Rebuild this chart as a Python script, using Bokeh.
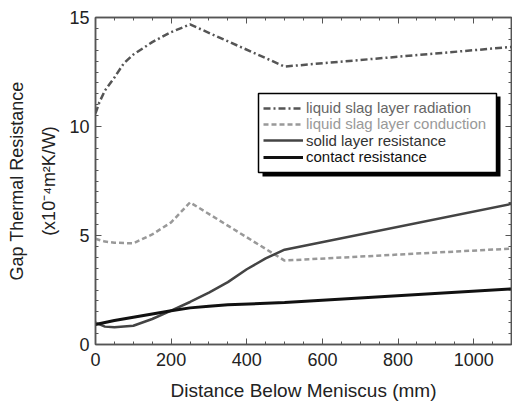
from bokeh.plotting import figure
from bokeh.models import (Range1d, LinearAxis, Legend, LegendItem,
                          BoxAnnotation, SingleIntervalTicker, CustomJSTickFormatter)
from bokeh.embed import file_html
from bokeh.resources import INLINE

# ---- data ----
rad_x = [0, 10, 25, 50, 75, 100, 150, 200, 250, 500, 1100]
rad_y = [10.6, 11.1, 11.65, 12.25, 12.9, 13.3, 13.87, 14.33, 14.68, 12.75, 13.65]

cond_x = [0, 25, 50, 100, 150, 200, 250, 500, 1100]
cond_y = [4.85, 4.72, 4.67, 4.64, 5.05, 5.6, 6.52, 3.85, 4.4]

solid_x = [0, 25, 50, 100, 150, 200, 250, 300, 350, 400, 450, 500, 1100]
solid_y = [1.0, 0.82, 0.79, 0.86, 1.17, 1.55, 1.95, 2.38, 2.86, 3.45, 3.95, 4.35, 6.45]

cont_x = [0, 50, 100, 150, 200, 250, 300, 350, 500, 1100]
cont_y = [0.92, 1.1, 1.25, 1.4, 1.55, 1.68, 1.76, 1.82, 1.93, 2.55]

series_names = ["liquid slag layer radiation", "liquid slag layer conduction",
                "solid layer resistance", "contact resistance"]
x_title = "Distance Below Meniscus (mm)"
y_title = "Gap Thermal Resistance\n(x10\u207b\u2074m\u00b2K/W)"

FONT = "Liberation Sans"

p = figure(width=512, height=403, output_backend="svg", toolbar_location=None,
           x_range=Range1d(0, 1100), y_range=Range1d(0, 15),
           min_border_left=95, min_border_right=1, min_border_top=17,
           min_border_bottom=59)
p.xgrid.visible = False
p.ygrid.visible = False
p.outline_line_color = "#555555"
p.outline_line_width = 1.5
p.background_fill_color = "white"
p.border_fill_color = "white"

def style_axis(ax, labels=True):
    ax.axis_line_color = "#555555"
    ax.axis_line_width = 1.5
    ax.major_tick_line_color = "#555555"
    ax.minor_tick_line_color = "#555555"
    ax.major_tick_in = 6
    ax.major_tick_out = 0
    ax.minor_tick_in = 3
    ax.minor_tick_out = 0
    ax.major_tick_line_width = 1
    ax.minor_tick_line_width = 1
    if labels:
        ax.major_label_text_font = FONT
        ax.major_label_text_font_size = "18px"
        ax.major_label_text_color = "#222222"
        ax.axis_label_text_font = FONT
        ax.axis_label_text_font_style = "normal"
        ax.axis_label_text_color = "#222222"
    else:
        ax.formatter = CustomJSTickFormatter(code="return ''")
        ax.major_label_standoff = 0

p.xaxis.ticker = SingleIntervalTicker(interval=200, num_minor_ticks=4)
p.yaxis.ticker = SingleIntervalTicker(interval=5, num_minor_ticks=10)
style_axis(p.xaxis[0])
style_axis(p.yaxis[0])
p.xaxis.major_label_standoff = 8
p.yaxis.major_label_standoff = 6

p.xaxis.axis_label = x_title
p.xaxis.axis_label_text_font_size = "19px"
p.xaxis.axis_label_standoff = 11

p.yaxis.axis_label = y_title
p.yaxis.axis_label_text_font_size = "18px"
p.yaxis.axis_label_text_line_height = 1.6
p.yaxis.axis_label_standoff = 7

ax_top = LinearAxis(ticker=SingleIntervalTicker(interval=200, num_minor_ticks=4))
style_axis(ax_top, labels=False)
p.add_layout(ax_top, "above")
ax_right = LinearAxis(ticker=SingleIntervalTicker(interval=5, num_minor_ticks=10))
style_axis(ax_right, labels=False)
p.add_layout(ax_right, "right")

# ---- lines ----
r1 = p.line(rad_x, rad_y, line_color="#555555", line_width=2.5, line_dash="7 3 2 3")
r2 = p.line(cond_x, cond_y, line_color="#999999", line_width=2.5, line_dash="5 3")
r3 = p.line(solid_x, solid_y, line_color="#444444", line_width=2.5)
r4 = p.line(cont_x, cont_y, line_color="#111111", line_width=3)

# ---- legend: shadow, framed box, then one row per series ----
p.add_layout(BoxAnnotation(left=167, right=405, bottom=168, top=248,
                           left_units="screen", right_units="screen",
                           bottom_units="screen", top_units="screen",
                           fill_color="black", fill_alpha=1.0, line_color=None))
p.add_layout(BoxAnnotation(left=163, right=401, bottom=172, top=251,
                           left_units="screen", right_units="screen",
                           bottom_units="screen", top_units="screen",
                           fill_color="white", fill_alpha=1.0,
                           line_color="black", line_width=1.5, line_alpha=1.0))

row_colors = ["#666666", "#999999", "#333333", "#111111"]
row_bottoms = [228, 211.7, 195.4, 179]
for name, r, col, yb in zip(series_names, [r1, r2, r3, r4], row_colors, row_bottoms):
    lg = Legend(items=[LegendItem(label=name, renderers=[r])], location=(168, yb))
    lg.label_text_font = FONT
    lg.label_text_font_size = "15px"
    lg.label_text_color = col
    lg.label_height = 16
    lg.glyph_height = 16
    lg.glyph_width = 40
    lg.label_standoff = 3
    lg.spacing = 0
    lg.padding = 0
    lg.margin = 0
    lg.border_line_color = None
    lg.background_fill_alpha = 0.0
    p.add_layout(lg, "center")

open("out.html", "w").write(file_html(p, INLINE))
